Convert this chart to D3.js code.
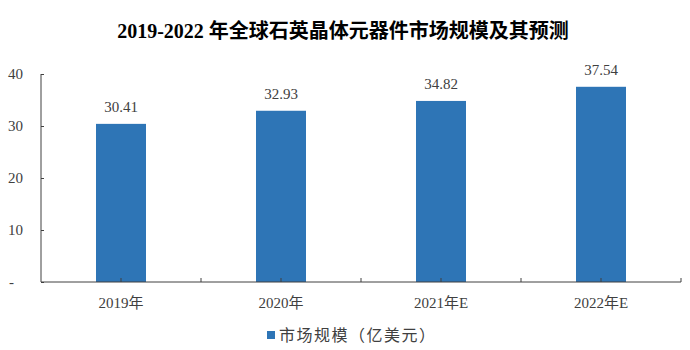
<!DOCTYPE html>
<html>
<head>
<meta charset="utf-8">
<script src="https://cdn.jsdelivr.net/npm/d3@7"></script>
<style>
body { margin: 0; background: #fff; }
svg text { font-family: "Liberation Serif", "Noto Sans CJK SC", serif; }
</style>
</head>
<body>
<script>
const WIDTH = 690, HEIGHT = 350;
const LEFT = 41, RIGHT = 681, TOP = 74, BOTTOM = 282;

// data
var categories = ['2019年', '2020年', '2021年E', '2022年E'];
var values = [30.41, 32.93, 34.82, 37.54];
var yTicks = [0, 10, 20, 30, 40];
var seriesName = '市场规模（亿美元）';
var title = '2019-2022 年全球石英晶体元器件市场规模及其预测';

var svg = d3.select('body').append('svg')
	.attr('width', WIDTH)
	.attr('height', HEIGHT);

var x = d3.scaleBand().domain(categories).range([LEFT, RIGHT]);
var y = d3.scaleLinear().domain([0, 40]).range([BOTTOM, TOP]);

// title
svg.append('text')
	.attr('x', 343).attr('y', 38)
	.attr('text-anchor', 'middle')
	.style('font-size', '20px').style('font-weight', 'bold').attr('fill', '#000')
	.text(title);

// bars
svg.append('g').selectAll('rect')
	.data(values).enter().append('rect')
	.attr('x', function(d, i){ return x(categories[i]) + x.bandwidth()/2 - 25; })
	.attr('y', function(d){ return y(d); })
	.attr('width', 50)
	.attr('height', function(d){ return BOTTOM - y(d); })
	.attr('fill', '#2E75B6');

// value labels
svg.append('g').selectAll('text')
	.data(values).enter().append('text')
	.attr('x', function(d, i){ return x(categories[i]) + x.bandwidth()/2; })
	.attr('y', function(d){ return y(d) - 12; })
	.attr('text-anchor', 'middle')
	.style('font-size', '15px').attr('fill', '#404040')
	.text(function(d){ return d.toFixed(2); });

// y axis
var yAxis = d3.axisRight(y).tickValues(yTicks).tickSize(3).tickFormat('');
var yg = svg.append('g').attr('transform', 'translate(' + LEFT + ',0)').call(yAxis);
yg.select('.domain').attr('stroke', '#404040').attr('d', 'M0,' + TOP + 'V' + BOTTOM);
yg.selectAll('line').attr('stroke', '#404040');
svg.append('g').selectAll('text')
	.data(yTicks).enter().append('text')
	.attr('x', function(d){ return d === 0 ? 14 : 23; })
	.attr('y', function(d){ return y(d) + 5; })
	.attr('text-anchor', 'end')
	.style('font-size', '15px').attr('fill', '#404040')
	.text(function(d){ return d === 0 ? '-' : d; });

// x axis: ticks at category centres and boundaries
var xg = svg.append('g').attr('transform', 'translate(0,' + BOTTOM + ')');
xg.append('line').attr('x1', LEFT).attr('x2', RIGHT).attr('stroke', '#404040');
var xTickPos = [];
categories.forEach(function(c){
	xTickPos.push(x(c) + x.bandwidth()/2);
	xTickPos.push(x(c) + x.bandwidth());
});
xg.selectAll('line.t').data(xTickPos).enter().append('line')
	.attr('class', 't')
	.attr('x1', function(d){ return d; }).attr('x2', function(d){ return d; })
	.attr('y1', 0).attr('y2', -4).attr('stroke', '#404040');
xg.selectAll('text').data(categories).enter().append('text')
	.attr('x', function(d){ return x(d) + x.bandwidth()/2; })
	.attr('y', 26)
	.attr('text-anchor', 'middle')
	.style('font-size', '15px').attr('fill', '#404040')
	.text(function(d){ return d; });

// legend
var lg = svg.append('g').attr('transform', 'translate(267,335)');
lg.append('rect').attr('x', 0).attr('y', -4).attr('width', 8).attr('height', 8).attr('fill', '#2E75B6');
lg.append('text').attr('x', 12).attr('y', 6)
	.style('font-family', '"Noto Sans CJK SC", sans-serif')
	.style('font-size', '16px').style('letter-spacing', '1.5px').attr('fill', '#404040')
	.text(seriesName);
</script>
</body>
</html>
